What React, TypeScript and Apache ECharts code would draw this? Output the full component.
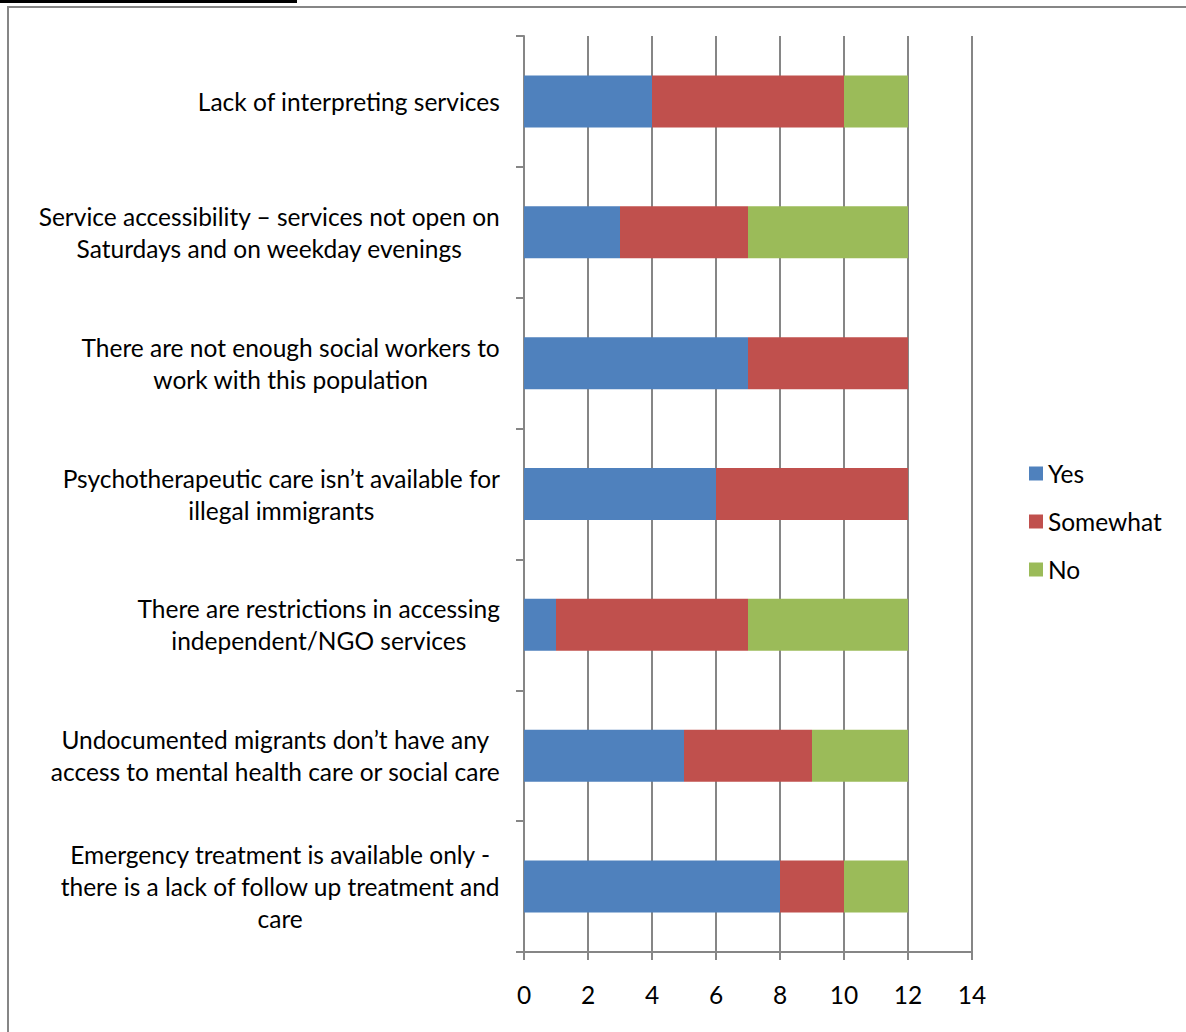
import React, { useEffect, useRef } from "react";
import * as echarts from "echarts";

const categories: string[] = [
  "Lack of interpreting services",
  "Service accessibility – services not open on\nSaturdays and on weekday evenings",
  "There are not enough social workers to\nwork with this population",
  "Psychotherapeutic care isn’t available for\nillegal immigrants",
  "There are restrictions in accessing\nindependent/NGO services",
  "Undocumented migrants don’t have any\naccess to mental health care or social care",
  "Emergency treatment is available only -\nthere is a lack of follow up treatment and\ncare",
];

const yesValues: number[] = [4, 3, 7, 6, 1, 5, 8];
const somewhatValues: number[] = [6, 4, 5, 6, 6, 4, 2];
const noValues: number[] = [2, 5, 0, 0, 5, 3, 2];

const xTicks = { min: 0, max: 14, interval: 2 };

const FONT = "Lato, 'Liberation Sans', sans-serif";
const GREY = "#868686";
const FS = 24.5;

export default function App() {
  const ref = useRef<HTMLDivElement>(null);
  useEffect(() => {
    document.body.style.margin = "0";
    const chart = echarts.init(ref.current!, null, { renderer: "svg" });
    const barCommon = {
      type: "bar" as const,
      stack: "total",
      barWidth: 52,
    };
    chart.setOption({
      animation: false,
      backgroundColor: "#ffffff",
      textStyle: { fontFamily: FONT },
      grid: { left: 524, right: 214, top: 36, bottom: 80, containLabel: false },
      legend: {
        orient: "vertical",
        left: 1024,
        top: 456,
        itemWidth: 14,
        itemHeight: 14,
        itemGap: 23,
        icon: "rect",
        textStyle: { fontSize: FS, lineHeight: 24, color: "#000", fontFamily: FONT },
        data: ["Yes", "Somewhat", "No"],
      },
      xAxis: {
        type: "value",
        min: xTicks.min,
        max: xTicks.max,
        interval: xTicks.interval,
        axisLine: { show: true, lineStyle: { color: GREY, width: 2 } },
        axisTick: { show: true, length: 8, lineStyle: { color: GREY, width: 2 } },
        axisLabel: { fontSize: FS, color: "#000", margin: 30, fontFamily: FONT },
        splitLine: { show: true, lineStyle: { color: GREY, width: 2 } },
      },
      yAxis: {
        type: "category",
        inverse: true,
        data: categories,
        axisLine: { show: true, lineStyle: { color: GREY, width: 2 } },
        axisTick: { show: true, length: 8, lineStyle: { color: GREY, width: 2 } },
        axisLabel: {
          margin: 24,
          fontSize: FS,
          color: "#000",
          fontFamily: FONT,
          lineHeight: 32,
          formatter: (v: string) => v.split("\n").map((l) => `{c|${l}}`).join("\n"),
          rich: {
            c: { align: "center", fontSize: FS, lineHeight: 32, color: "#000", fontFamily: FONT },
          },
        },
        splitLine: { show: false },
      },
      series: [
        { ...barCommon, name: "Yes", data: yesValues, itemStyle: { color: "#4F81BD" } },
        { ...barCommon, name: "Somewhat", data: somewhatValues, itemStyle: { color: "#C0504D" } },
        { ...barCommon, name: "No", data: noValues, itemStyle: { color: "#9BBB59" } },
      ],
      graphic: [
        {
          type: "rect",
          shape: { x: 8, y: 7, width: 1200, height: 1100 },
          style: { fill: "none", stroke: GREY, lineWidth: 2 },
          silent: true,
        },
        {
          type: "line",
          shape: { x1: 0, y1: 1.5, x2: 297, y2: 1.5 },
          style: { stroke: "#000", lineWidth: 3 },
          silent: true,
        },
      ],
    });
    return () => chart.dispose();
  }, []);
  return <div ref={ref} style={{ width: 1186, height: 1032, position: "absolute", left: 0, top: 0 }} />;
}
